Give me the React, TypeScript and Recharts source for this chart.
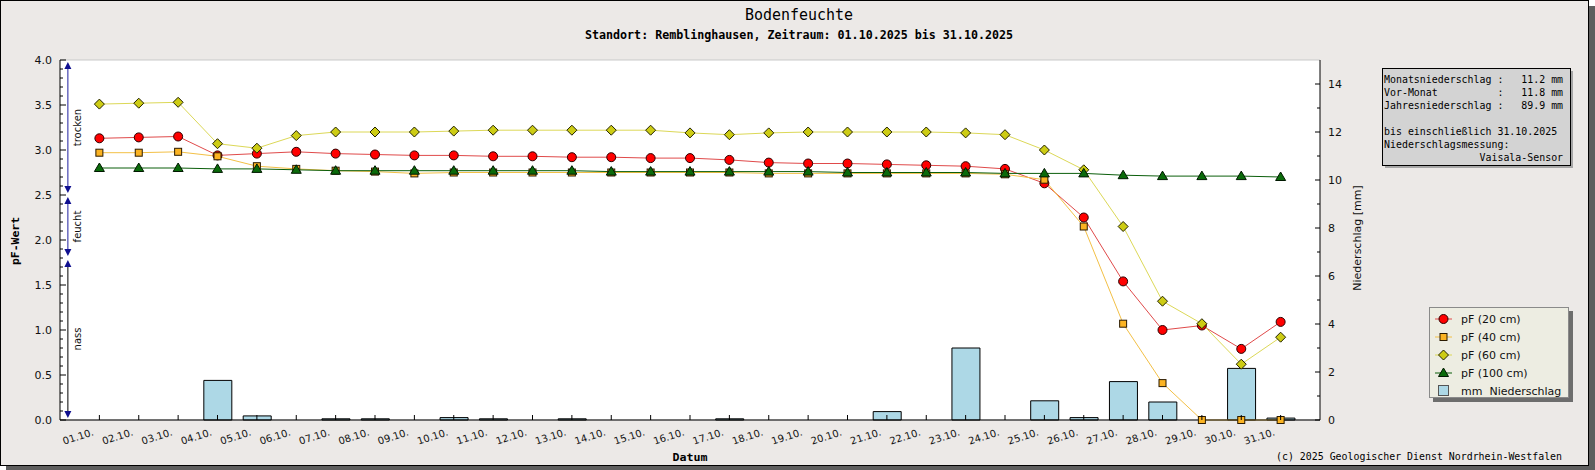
import React from 'react';
import { ComposedChart, Line, Bar, XAxis, YAxis, CartesianGrid, ReferenceLine, Legend } from 'recharts';

// ---------- data ----------
const dateLabels = [
  '01.10.', '02.10.', '03.10.', '04.10.', '05.10.', '06.10.', '07.10.', '08.10.', '09.10.', '10.10.',
  '11.10.', '12.10.', '13.10.', '14.10.', '15.10.', '16.10.', '17.10.', '18.10.', '19.10.', '20.10.',
  '21.10.', '22.10.', '23.10.', '24.10.', '25.10.', '26.10.', '27.10.', '28.10.', '29.10.', '30.10.', '31.10.',
];
const dayNumbers = [
  1, 2, 3, 4, 5, 6, 7, 8, 9, 10, 11, 12, 13, 14, 15, 16, 17, 18, 19, 20, 21, 22, 23, 24, 25, 26, 27, 28, 29, 30, 31,
];
const pf20 = [
  3.13, 3.14, 3.15, 2.94, 2.96, 2.98, 2.96, 2.95, 2.94, 2.94, 2.93, 2.93, 2.92, 2.92, 2.91, 2.91,
  2.89, 2.86, 2.85, 2.85, 2.84, 2.83, 2.82, 2.79, 2.63, 2.25, 1.54, 1.0, 1.05, 0.79, 1.09,
];
const pf40 = [
  2.97, 2.97, 2.98, 2.93, 2.82, 2.79, 2.77, 2.76, 2.74, 2.75, 2.75, 2.75, 2.75, 2.75, 2.75, 2.75,
  2.75, 2.74, 2.74, 2.74, 2.74, 2.74, 2.74, 2.73, 2.67, 2.15, 1.07, 0.41, 0, 0, 0,
];
const pf60 = [
  3.51, 3.52, 3.53, 3.07, 3.02, 3.16, 3.2, 3.2, 3.2, 3.21, 3.22, 3.22, 3.22, 3.22, 3.22, 3.19,
  3.17, 3.19, 3.2, 3.2, 3.2, 3.2, 3.19, 3.17, 3.0, 2.78, 2.15, 1.32, 1.07, 0.62, 0.92,
];
const pf100 = [
  2.8, 2.8, 2.8, 2.79, 2.79, 2.78, 2.77, 2.77, 2.77, 2.77, 2.77, 2.77, 2.77, 2.76, 2.76, 2.76,
  2.76, 2.76, 2.76, 2.75, 2.75, 2.75, 2.75, 2.74, 2.74, 2.74, 2.72, 2.71, 2.71, 2.71, 2.7,
];
const rainMm = [
  null, null, null, 1.65, 0.17, null, 0.05, 0.05, null, 0.1, 0.05, null, 0.05, null, null, null,
  0.05, null, null, null, 0.35, null, 3.0, null, 0.8, 0.1, 1.6, 0.75, null, 2.15, 0.08,
];
const leftMajorTicks = [0, 0.5, 1, 1.5, 2, 2.5, 3, 3.5, 4];
const leftAllTicks = Array.from({ length: 41 }, (_, i) => i / 10);
const rightTicks = [0, 1, 2, 3, 4, 5, 6, 7, 8, 9, 10, 11, 12, 13, 14];
const zones = [
  { label: 'trocken', from: 4.0, to: 2.5, line: '#1f1f9f' },
  { label: 'feucht', from: 2.5, to: 1.8, line: '#1f1f9f' },
  { label: 'nass', from: 1.8, to: 0, line: '#000000' },
];
const zoneX = 0.2;
const infoLines = [
  'Monatsniederschlag :   11.2 mm',
  'Vor-Monat          :   11.8 mm',
  'Jahresniederschlag :   89.9 mm',
  '',
  'bis einschließlich 31.10.2025',
  'Niederschlagsmessung:',
  '                Vaisala-Sensor',
];

const data = dayNumbers.map((d, i) => ({
  day: d,
  label: dateLabels[i],
  pf20: pf20[i],
  pf40: pf40[i],
  pf60: pf60[i],
  pf100: pf100[i],
  rain: rainMm[i],
}));

// ---------- styles ----------
const series = [
  { key: 'pf20', name: 'pF (20 cm)', line: '#e04a4a', marker: 'circle' },
  { key: 'pf40', name: 'pF (40 cm)', line: '#f3c046', marker: 'square' },
  { key: 'pf60', name: 'pF (60 cm)', line: '#dcd857', marker: 'diamond' },
  { key: 'pf100', name: 'pF (100 cm)', line: '#0b5e0b', marker: 'triangle' },
];
const BG = '#ece9e7';
const SANS = 'DejaVu Sans';
const MONO = 'DejaVu Sans Mono';

function Marker({ kind, cx, cy }: { kind: string; cx: number; cy: number }) {
  if (cx == null || cy == null || isNaN(cx) || isNaN(cy)) return <g />;
  switch (kind) {
    case 'circle':
      return <circle cx={cx} cy={cy} r={4.5} fill="#ff0000" stroke="#2a0000" strokeWidth={1} />;
    case 'square':
      return <rect x={cx - 3.5} y={cy - 3.5} width={7} height={7} fill="#fbb322" stroke="#2a1a00" strokeWidth={1} />;
    case 'diamond':
      return (
        <polygon
          points={`${cx},${cy - 5} ${cx + 5},${cy} ${cx},${cy + 5} ${cx - 5},${cy}`}
          fill="#cdcc14"
          stroke="#222200"
          strokeWidth={1}
        />
      );
    case 'triangle':
      return (
        <polygon
          points={`${cx},${cy - 5} ${cx + 5},${cy + 3.5} ${cx - 5},${cy + 3.5}`}
          fill="#0a6a0a"
          stroke="#001800"
          strokeWidth={1}
        />
      );
    default:
      return <g />;
  }
}

const XTick = (props: any) => {
  const { x, y, payload } = props;
  const lx = x - 5;
  const ly = y + 15;
  return (
    <g>
      <line x1={x} x2={x} y1={y} y2={y - 5} stroke="#000" />
      <text
        x={lx}
        y={ly}
        transform={`rotate(-18 ${lx} ${ly})`}
        textAnchor="end"
        fontFamily={SANS}
        fontSize={10}
        fill="#111"
      >
        {dateLabels[payload.value - 1]}
      </text>
    </g>
  );
};

const LeftTick = (props: any) => {
  const { x, y, payload } = props;
  const v = payload.value as number;
  const major = Math.abs(v * 2 - Math.round(v * 2)) < 1e-6;
  return (
    <g>
      <line x1={x} x2={x + (major ? 6 : 3)} y1={y} y2={y} stroke="#000" />
      {major && (
        <text x={x - 8} y={y + 4} textAnchor="end" fontFamily={SANS} fontSize={11} fill="#111">
          {v.toFixed(1)}
        </text>
      )}
    </g>
  );
};

const RightTick = (props: any) => {
  const { x, y, payload } = props;
  const v = payload.value as number;
  const major = v % 2 === 0;
  return (
    <g>
      <line x1={x} x2={x - (major ? 5 : 3)} y1={y} y2={y} stroke="#000" />
      {major && (
        <text x={x + 8} y={y + 4} textAnchor="start" fontFamily={SANS} fontSize={11} fill="#111">
          {String(v)}
        </text>
      )}
    </g>
  );
};

const zoneShape = (zone: { label: string; line: string }) => (p: any) => {
  const x = p.x1;
  const top = Math.min(p.y1, p.y2) + 2;
  const bot = Math.max(p.y1, p.y2) - 2;
  const mid = (top + bot) / 2;
  const arrow = '#101090';
  return (
    <g>
      <line x1={x} x2={x} y1={top + 3} y2={bot - 3} stroke={zone.line} strokeWidth={1} />
      <polygon points={`${x},${top} ${x - 3.5},${top + 7} ${x + 3.5},${top + 7}`} fill={arrow} />
      <polygon points={`${x},${bot} ${x - 3.5},${bot - 7} ${x + 3.5},${bot - 7}`} fill={arrow} />
      <text
        x={x + 13}
        y={mid}
        transform={`rotate(-90 ${x + 13} ${mid})`}
        textAnchor="middle"
        fontFamily={SANS}
        fontSize={10}
        fill="#111"
      >
        {zone.label}
      </text>
    </g>
  );
};

const LegendBox = () => (
  <div
    style={{
      width: 140,
      height: 91,
      boxSizing: 'border-box',
      border: '1px solid #8a8a8a',
      background: '#ededE2',
      boxShadow: '4px 4px 0 #6d6d6d',
      paddingTop: 2,
      fontFamily: SANS,
      fontSize: 11,
      color: '#111',
    }}
  >
    {series.map((s) => (
      <div key={s.key} style={{ display: 'flex', alignItems: 'center', height: 18 }}>
        <svg width={20} height={18} style={{ marginLeft: 4, display: 'block' }}>
          <line x1={1} x2={18} y1={9} y2={9} stroke={s.line} strokeWidth={1} />
          <Marker kind={s.marker} cx={9.5} cy={9} />
        </svg>
        <span style={{ marginLeft: 7, whiteSpace: 'pre' }}>{s.name}</span>
      </div>
    ))}
    <div style={{ display: 'flex', alignItems: 'center', height: 18 }}>
      <svg width={20} height={18} style={{ marginLeft: 4, display: 'block' }}>
        <rect x={4.5} y={3.5} width={10} height={10} fill="#add8e6" stroke="#555" strokeWidth={1} />
      </svg>
      <span style={{ marginLeft: 7, whiteSpace: 'pre' }}>{'mm  Niederschlag'}</span>
    </div>
  </div>
);

export default function App() {
  return (
    <div style={{ position: 'absolute', left: 0, top: 0, width: 1595, height: 470, overflow: 'hidden' }}>
      {/* frame shadow + frame */}
      <div style={{ position: 'absolute', left: 6, top: 6, width: 1589, height: 464, background: '#5e5e5e' }} />
      <div
        style={{
          position: 'absolute',
          left: 0,
          top: 0,
          width: 1589,
          height: 466,
          boxSizing: 'border-box',
          border: '1px solid #000',
          background: BG,
        }}
      />
      <div style={{ position: 'absolute', left: 0, top: 0 }}>
        <ComposedChart
          width={1595}
          height={470}
          data={data}
          margin={{ top: 60, right: 215, bottom: 20, left: 10 }}
        >
          <CartesianGrid yAxisId="grid" vertical={false} stroke="#c9c9c9" fill="#ffffff" />
          <XAxis
            type="number"
            dataKey="day"
            domain={[0, 32]}
            ticks={dayNumbers}
            interval={0}
            height={30}
            tickSize={0}
            tickMargin={0}
            axisLine={{ stroke: '#000' }}
            tickLine={false}
            tick={<XTick />}
          />
          <YAxis
            yAxisId="left"
            orientation="left"
            domain={[0, 4]}
            ticks={leftAllTicks}
            interval={0}
            width={50}
            tickSize={0}
            tickMargin={0}
            axisLine={{ stroke: '#000' }}
            tickLine={false}
            tick={<LeftTick />}
          />
          <YAxis
            yAxisId="grid"
            orientation="left"
            domain={[0, 4]}
            ticks={leftMajorTicks}
            interval={0}
            width={0}
            tick={false}
            axisLine={false}
            tickLine={false}
          />
          <YAxis
            yAxisId="right"
            orientation="right"
            domain={[0, 15]}
            ticks={rightTicks}
            interval={0}
            width={60}
            tickSize={0}
            tickMargin={0}
            axisLine={{ stroke: '#000' }}
            tickLine={false}
            tick={<RightTick />}
          />
          <Bar
            yAxisId="right"
            dataKey="rain"
            name="mm  Niederschlag"
            fill="#add8e6"
            stroke="#000"
            strokeWidth={1}
            barSize={28}
            isAnimationActive={false}
          />
          {series.map((s) => (
            <Line
              key={s.key}
              yAxisId="left"
              type="linear"
              dataKey={s.key}
              name={s.name}
              stroke={s.line}
              strokeWidth={1}
              dot={(p: any) => <Marker key={`${s.key}-${p.index}`} kind={s.marker} cx={p.cx} cy={p.cy} />}
              activeDot={false}
              isAnimationActive={false}
            />
          ))}
          {zones.map((z) => (
            <ReferenceLine
              key={z.label}
              yAxisId="left"
              segment={[
                { x: zoneX, y: z.from },
                { x: zoneX, y: z.to },
              ]}
              ifOverflow="visible"
              shape={zoneShape(z)}
            />
          ))}
          <Legend
            layout="vertical"
            align="center"
            verticalAlign="middle"
            wrapperStyle={{ left: 1429, top: 307, width: 140, height: 91 }}
            content={() => <LegendBox />}
          />
        </ComposedChart>
      </div>
      {/* overlay texts */}
      <svg
        width={1595}
        height={470}
        style={{ position: 'absolute', left: 0, top: 0, pointerEvents: 'none' }}
      >
        <text x={799} y={20} textAnchor="middle" fontFamily={MONO} fontSize={15} textLength={108} lengthAdjust="spacingAndGlyphs" fill="#000">
          Bodenfeuchte
        </text>
        <text x={799} y={38.5} textAnchor="middle" fontFamily={MONO} fontWeight="bold" fontSize={11.5} textLength={428} lengthAdjust="spacingAndGlyphs" fill="#000">
          Standort: Remblinghausen, Zeitraum: 01.10.2025 bis 31.10.2025
        </text>
        <text
          x={19}
          y={241}
          transform="rotate(-90 19 241)"
          textAnchor="middle"
          fontFamily={MONO}
          fontWeight="bold"
          fontSize={11}
          textLength={48}
          lengthAdjust="spacingAndGlyphs"
          fill="#000"
        >
          pF-Wert
        </text>
        <text
          x={1361}
          y={238}
          transform="rotate(-90 1361 238)"
          textAnchor="middle"
          fontFamily={SANS}
          fontSize={11}
          fill="#111"
        >
          Niederschlag [mm]
        </text>
        <text x={690} y={461} textAnchor="middle" fontFamily={MONO} fontWeight="bold" fontSize={10.5} textLength={35} lengthAdjust="spacingAndGlyphs" fill="#000">
          Datum
        </text>
        <text x={1562} y={459.5} textAnchor="end" fontFamily={MONO} fontSize={10} textLength={286} lengthAdjust="spacingAndGlyphs" fill="#000">
          (c) 2025 Geologischer Dienst Nordrhein-Westfalen
        </text>
        {/* info box */}
        <rect x={1385} y={71} width={188} height={97} fill="#a6a6a6" />
        <rect x={1382.5} y={68.5} width={188} height={97} fill="#d3d3d3" stroke="#000" strokeWidth={1} />
        {infoLines.map((l, i) => (
          <text
            key={i}
            x={1384}
            y={83 + i * 13 + (i >= 4 ? -0.5 : 0)}
            fontFamily={MONO}
            fontSize={10}
            textLength={l.length > 0 ? l.length * 5.97 : undefined}
            lengthAdjust="spacingAndGlyphs"
            style={{ whiteSpace: 'pre' }}
            fill="#000"
          >
            {l}
          </text>
        ))}
      </svg>
    </div>
  );
}
